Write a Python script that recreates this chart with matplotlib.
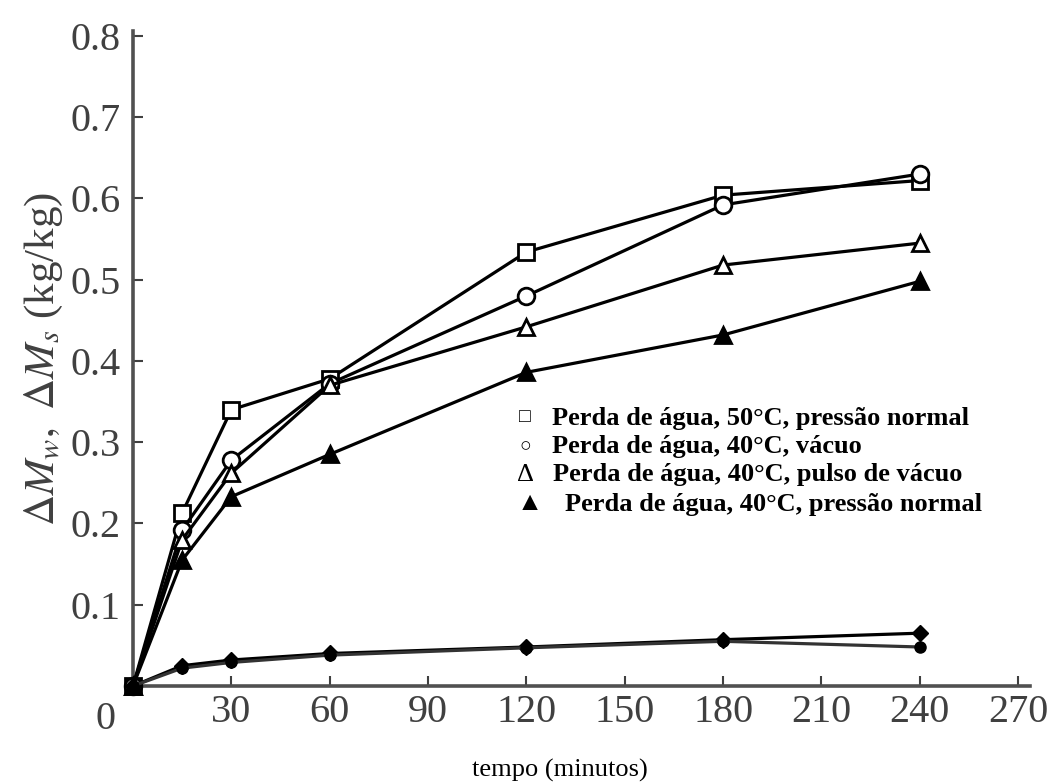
import matplotlib
matplotlib.use("Agg")
import matplotlib.pyplot as plt

# ---- data ----
tempo = [0, 15, 30, 60, 120, 180, 240]
agua_50_normal = [0.0, 0.213, 0.340, 0.378, 0.534, 0.604, 0.622]
agua_40_vacuo = [0.0, 0.192, 0.278, 0.372, 0.480, 0.592, 0.630]
agua_40_pulso = [0.0, 0.180, 0.262, 0.370, 0.442, 0.518, 0.545]
agua_40_normal = [0.0, 0.155, 0.233, 0.285, 0.386, 0.432, 0.498]
solidos_a = [0.0, 0.025, 0.032, 0.040, 0.048, 0.057, 0.065]
solidos_b = [0.0, 0.022, 0.029, 0.038, 0.047, 0.055, 0.048]

xticks = [30, 60, 90, 120, 150, 180, 210, 240, 270]
yticks = [0.1, 0.2, 0.3, 0.4, 0.5, 0.6, 0.7, 0.8]
legend_labels = ["Perda de água, 50°C, pressão normal",
                 "Perda de água, 40°C, vácuo",
                 "Perda de água, 40°C, pulso de vácuo",
                 "Perda de água, 40°C, pressão normal"]
legend_symbols = ["□", "○", "Δ", "▲"]

plt.rcParams["mathtext.fontset"] = "stix"

fig = plt.figure(figsize=(10.54, 7.82), dpi=100)
ax = fig.add_axes([133/1054, 1-686/782, (1030-133)/1054, (686-31)/782])
ax.set_xlim(0, 273.6)
ax.set_ylim(0, 0.806)

lw = 2.3
ms = 12
series = [
    (agua_50_normal, dict(marker="s", mfc="white")),
    (agua_40_vacuo, dict(marker="o", mfc="white")),
    (agua_40_pulso, dict(marker="^", mfc="white")),
    (agua_40_normal, dict(marker="^", mfc="black")),
]
for ys, st in series:
    ax.plot(tempo, ys, color="black", lw=lw, ms=ms, mec="black", mew=2.0,
            clip_on=False, zorder=3, **st)
ax.plot(tempo, solidos_a, color="black", lw=lw, marker="D", ms=8, mfc="black",
        mec="black", clip_on=False, zorder=3)
ax.plot(tempo, solidos_b, color="#333333", lw=lw, marker="o", ms=8, mfc="black",
        mec="black", clip_on=False, zorder=3)

for s in ["top", "right"]:
    ax.spines[s].set_visible(False)
for s in ["left", "bottom"]:
    ax.spines[s].set_linewidth(2.6)
    ax.spines[s].set_color("#505050")

tick_font = dict(family="Liberation Serif", size=29)
ax.set_xticks(xticks)
ax.set_xticklabels([str(v) for v in xticks], fontdict=tick_font, color="#404040")
ax.set_yticks(yticks)
ax.set_yticklabels([f"{v:.1f}" for v in yticks], fontdict=tick_font, color="#404040")
ax.tick_params(axis="x", direction="in", length=7, width=1.5, pad=6, colors="#404040")
ax.tick_params(axis="y", direction="in", length=7, width=1.5, pad=9, colors="#404040")

ax.annotate("0", xy=(0, 0), xycoords="data", xytext=(-20, -11),
            textcoords="offset points", ha="center", va="top",
            fontfamily="Liberation Serif", fontsize=29, color="#404040")

ax.set_ylabel(r"$\Delta M_w,\ \Delta M_s$ (kg/kg)", fontsize=31,
              fontfamily="Liberation Serif", color="#404040", labelpad=4)

fig.text(560/1054, 1-770/782, "tempo (minutos)", ha="center", va="center",
         fontfamily="Liberation Serif", fontsize=19)

leg_y = [418, 447, 475, 504]
sym_x = [525, 525, 525, 530]
txt_x = [552, 552, 553, 565]
sym_size = [14, 14, 19, 19]
for lab, sym, y, sx, tx, ss in zip(legend_labels, legend_symbols, leg_y, sym_x, txt_x, sym_size):
    fig.text(sx/1054, 1-y/782, sym, ha="center", va="center",
             fontfamily=["Liberation Serif", "DejaVu Sans"], fontsize=ss)
    fig.text(tx/1054, 1-y/782, lab, ha="left", va="center",
             fontfamily="Liberation Serif", fontweight="bold", fontsize=19)

fig.savefig("out.png", dpi=100)
